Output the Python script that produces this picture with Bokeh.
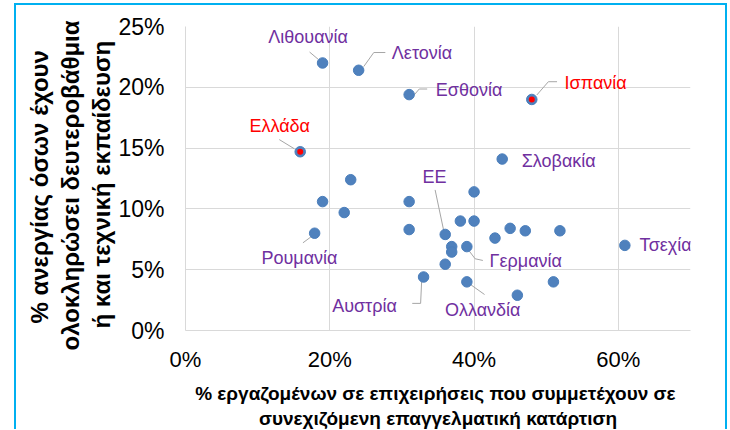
from bokeh.plotting import figure
from bokeh.models import Range1d, FixedTicker, Label, Title
from bokeh.embed import file_html
from bokeh.resources import INLINE

# ---------------- data ----------------
countries = ["Λιθουανία", "Λετονία", "Εσθονία", "Ισπανία", "Ελλάδα", "Σλοβακία",
             "", "", "", "", "", "Ρουμανία", "", "", "", "ΕΕ", "", "",
             "Γερμανία", "", "Αυστρία", "Ολλανδία", "", "", "", "", "", "", "Τσεχία"]
training = [19.0, 24.0, 31.0, 48.0, 15.9, 43.9,
            40.0, 31.0, 22.9, 19.0, 22.0, 17.9, 31.0, 38.1, 40.0, 36.0, 36.9, 36.9,
            39.0, 36.0, 33.0, 39.0, 45.0, 47.1, 51.9, 42.9, 51.0, 46.0, 60.9]
unemployment = [22.0, 21.4, 19.4, 19.0, 14.7, 14.1,
                11.4, 10.6, 12.4, 10.6, 9.7, 8.0, 8.3, 9.0, 9.0, 7.9, 6.9, 6.45,
                6.9, 5.45, 4.4, 4.0, 8.4, 8.2, 8.2, 7.6, 4.0, 2.9, 7.0]
highlighted = ["Ελλάδα", "Ισπανία"]
x_ticks = [0, 20, 40, 60]
y_ticks = [0, 5, 10, 15, 20, 25]
x_title = ["% εργαζομένων σε επιχειρήσεις  που συμμετέχουν σε",
           "συνεχιζόμενη επαγγελματική κατάρτιση"]
y_title = ["% ανεργίας όσων έχουν",
           "ολοκληρώσει δευτεροβάθμια",
           "ή και τεχνική εκπαίδευση"]

# label placement (annotation layout): name -> (x, y, align, leader polyline)
label_layout = {
    "Λιθουανία": (17.0, 24.1, "center", [(17.2, 22.9), (18.4, 22.3)]),
    "Λετονία": (28.6, 22.8, "left", [(24.7, 21.7), (26.1, 22.86), (27.7, 22.86)]),
    "Εσθονία": (34.7, 19.8, "left", [(31.7, 19.37), (32.4, 19.86), (33.5, 19.86)]),
    "Ισπανία": (52.55, 20.35, "left", [(48.7, 19.37), (50.3, 20.46), (51.5, 20.46)]),
    "Ελλάδα": (13.06, 16.8, "center", [(13.0, 15.7), (15.1, 14.94)]),
    "Σλοβακία": (46.6, 13.95, "left", []),
    "ΕΕ": (34.5, 12.65, "center", [(34.6, 11.56), (35.86, 8.02)]),
    "Ρουμανία": (15.8, 6.0, "center", [(16.28, 7.21), (17.44, 7.72)]),
    "Γερμανία": (42.15, 5.7, "left", [(39.1, 6.72), (40.14, 5.9), (41.22, 5.76)]),
    "Αυστρία": (29.3, 1.98, "right", [(32.73, 4.0), (32.59, 2.23), (31.43, 2.23)]),
    "Ολλανδία": (41.2, 1.65, "center", [(38.98, 4.0), (41.45, 2.96)]),
    "Τσεχία": (63.45, 6.95, "left", []),
}
overflow_labels = ["Τσεχία"]   # labels that run past the plot frame

FONT = "Liberation Sans"
BLUE = "#00B0F0"
W, H = 713, 426
MB_L, MB_R, MB_T, MB_B = 169, 39, 21, 97
X_END, Y_END = 70, 25
FRAME_W = W - 4 - MB_L - MB_R
FRAME_H = H - 2 - MB_T - MB_B
# y-axis title: lines start this many px above the frame bottom (negative = below)
Y_TITLE_OFFSETS = [7, -20, 2]

p = figure(width=W, height=H, output_backend="svg", toolbar_location=None,
           x_range=Range1d(0, X_END), y_range=Range1d(0, Y_END),
           min_border_left=MB_L, min_border_right=MB_R, min_border_top=MB_T,
           min_border_bottom=MB_B,
           styles={"border-top": f"2px solid {BLUE}",
                   "border-left": f"2px solid {BLUE}",
                   "border-right": f"2px solid {BLUE}",
                   "margin-left": "14px", "margin-top": "3px"})
p.outline_line_color = None
p.background_fill_color = "white"
p.border_fill_color = "white"

for ax, ticks in ((p.xaxis[0], x_ticks), (p.yaxis[0], y_ticks)):
    ax.ticker = FixedTicker(ticks=ticks)
    ax.major_label_overrides = {t: f"{t}%" for t in ticks}
    ax.major_tick_line_color = None
    ax.minor_tick_line_color = None
    ax.major_tick_out = 0
    ax.major_tick_in = 0
    ax.axis_line_color = "#D9D9D9"
    ax.major_label_text_font = FONT
    ax.major_label_text_color = "black"
    ax.axis_label_text_font = FONT
    ax.axis_label_text_font_style = "bold"
    ax.axis_label_text_color = "black"
    ax.axis_label_text_line_height = 1.2
p.xaxis.major_label_text_font_size = "22px"
p.yaxis.major_label_text_font_size = "23px"
p.xaxis.major_label_standoff = 16
p.yaxis.major_label_standoff = 21
p.xaxis.axis_label = "\n".join(x_title)
p.xaxis.axis_label_text_font_size = "19px"
p.xaxis.axis_label_standoff = 8

# y-axis title: three rotated lines stacked outward from the axis
for i in (2, 1, 0):
    p.add_layout(Title(text=y_title[i], align="left", offset=Y_TITLE_OFFSETS[i],
                       standoff=2, text_font=FONT, text_font_size="24px",
                       text_font_style="bold", text_color="black"), "left")

p.xgrid.ticker = FixedTicker(ticks=x_ticks)
p.ygrid.ticker = FixedTicker(ticks=y_ticks)
p.grid.grid_line_color = "#D9D9D9"
p.grid.grid_line_width = 1

# leader lines
lx, ly = [], []
for name, (tx, ty, al, pts) in label_layout.items():
    if pts:
        lx.append([q[0] for q in pts])
        ly.append([q[1] for q in pts])
p.multi_line(lx, ly, line_color="#A6A6A6", line_width=1)

# points
p.scatter(training, unemployment, size=10.5, fill_color="#4F81BD",
          line_color="#4A7EBB", line_width=1)
hx = [x for x, c in zip(training, countries) if c in highlighted]
hy = [y for y, c in zip(unemployment, countries) if c in highlighted]
p.scatter(hx, hy, size=6, fill_color="#FF0000", line_color=None)

# country labels
for name, (tx, ty, al, pts) in label_layout.items():
    kw = dict(x=tx, y=ty)
    if name in overflow_labels:
        kw = dict(x=tx / X_END * FRAME_W, y=ty / Y_END * FRAME_H,
                  x_units="screen", y_units="screen")
    p.add_layout(Label(text=name, text_align=al,
                       text_baseline="middle", text_font=FONT,
                       text_font_size="18px",
                       text_color="#FF0000" if name in highlighted else "#7030A0",
                       **kw))

open("out.html", "w").write(file_html(p, INLINE))
